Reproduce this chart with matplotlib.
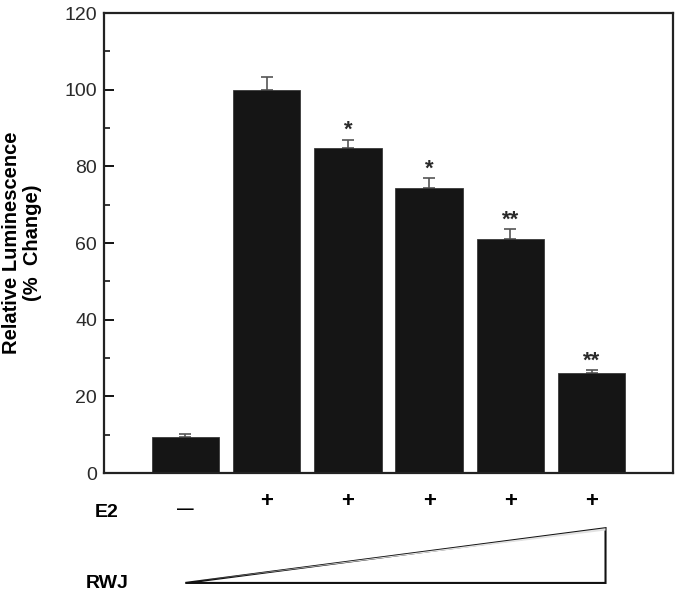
import matplotlib
matplotlib.use("Agg")
import matplotlib.pyplot as plt
from matplotlib.patches import Polygon
from matplotlib.ticker import MultipleLocator

plt.rcParams['font.family'] = ['Liberation Sans', 'DejaVu Sans']

# data
e2_signs = ['\u2014', '+', '+', '+', '+', '+']
values = [9.4, 100.0, 84.8, 74.4, 61.0, 26.2]
errors = [0.8, 3.4, 2.2, 2.5, 2.6, 0.6]
signif = ['', '', '*', '*', '**', '**']

fig = plt.figure(figsize=(6.78, 5.94), dpi=100)
ax = fig.add_axes([0.1534, 0.2037, 0.8392, 0.7744])

x = list(range(len(values)))
ax.bar(x, values, width=0.83, color='#151515', edgecolor='#3a3a3a', linewidth=0.6, zorder=2)
ax.errorbar(x, values, yerr=[[0] * len(errors), errors], fmt='none',
            ecolor='#555555', elinewidth=1.2, capsize=4, capthick=1.2, zorder=1)

# significance stars
for xi, v, e, s in zip(x, values, errors, signif):
    if s:
        ax.annotate(s, (xi, v + e), xytext=(0, -1), textcoords='offset points',
                    ha='center', va='bottom', fontsize=16, fontweight='bold', color='#2a2a2a')

ax.set_xlim(-1, 6)
ax.set_ylim(0, 120)
ax.yaxis.set_major_locator(MultipleLocator(20))
ax.yaxis.set_minor_locator(MultipleLocator(10))
ax.tick_params(axis='y', which='major', direction='in', length=7, width=1.3, labelsize=14, pad=5,
               labelcolor='#2a2a2a')
ax.tick_params(axis='y', which='minor', direction='in', length=4, width=1.1)
ax.set_xticks([])
for sp in ax.spines.values():
    sp.set_linewidth(1.6)
    sp.set_color('#222222')

ax.set_ylabel('Relative Luminescence\n(%  Change)', fontsize=14.5, fontweight='bold',
              labelpad=16, linespacing=1.15)

# E2 row below the axis
trans = ax.get_xaxis_transform()
ax.text(-1.12, -0.085, 'E2', transform=trans, ha='left', va='center',
        fontsize=14, fontweight='bold', clip_on=False)
for xi, s in zip(x, e2_signs):
    yy = -0.079 if s != '+' else -0.062
    ax.text(xi, yy, s, transform=trans, ha='center', va='center',
            fontsize=16 if s == '+' else 12, fontweight='bold', clip_on=False)

# RWJ dose triangle
ax.text(-1.23, -0.24, 'RWJ', transform=trans, ha='left', va='center',
        fontsize=14, fontweight='bold', clip_on=False)
shade = Polygon([(x[0] + 0.1, -0.236), (x[-1] + 0.17, -0.125), (x[-1] + 0.17, -0.12)],
                closed=True, transform=trans, facecolor='#e2e2e2', edgecolor='none',
                clip_on=False)
tri = Polygon([(x[0], -0.239), (x[-1] + 0.17, -0.12), (x[-1] + 0.17, -0.239)],
              closed=True, transform=trans, facecolor='white', edgecolor='#111111',
              linewidth=1.5, clip_on=False)
ax.add_patch(tri)
ax.add_patch(shade)

fig.savefig('out.png', dpi=100)
